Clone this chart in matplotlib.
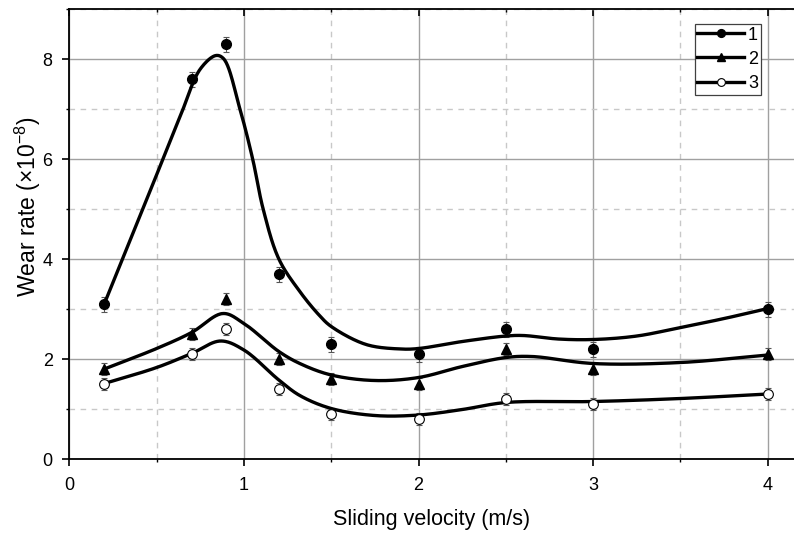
import numpy as np
import matplotlib.pyplot as plt
from matplotlib.ticker import MultipleLocator

plt.rcParams['font.family'] = ['Liberation Sans', 'DejaVu Sans']
plt.rcParams['mathtext.fontset'] = 'custom'
plt.rcParams['mathtext.rm'] = 'Liberation Sans'
plt.rcParams['mathtext.it'] = 'Liberation Sans:italic'

# measured points
velocity = [0.2, 0.7, 0.9, 1.2, 1.5, 2.0, 2.5, 3.0, 4.0]
wear_1 = [3.1, 7.6, 8.3, 3.7, 2.3, 2.1, 2.6, 2.2, 3.0]
wear_2 = [1.8, 2.5, 3.2, 2.0, 1.6, 1.5, 2.2, 1.8, 2.1]
wear_3 = [1.5, 2.1, 2.6, 1.4, 0.9, 0.8, 1.2, 1.1, 1.3]
err_1 = [0.15] * 9
err_2 = [0.12] * 9
err_3 = [0.12] * 9

# fitted curves
fit1_x = [0.2, 0.45, 0.64, 0.75, 0.84, 0.885, 0.977, 1.05, 1.11, 1.2,
          1.32, 1.43, 1.5, 1.7, 1.9, 2.0, 2.25, 2.5, 2.6, 2.8, 3.0, 3.25, 3.5, 3.75, 4.0]
fit1_y = [3.1, 5.25, 6.9, 7.8, 8.07, 8.0, 7.0, 6.0, 5.0, 4.0,
          3.35, 2.88, 2.65, 2.29, 2.2, 2.21, 2.35, 2.46, 2.47, 2.40, 2.39, 2.46, 2.63, 2.81, 3.01]
fit2_x = [0.2, 0.5, 0.7, 0.88, 1.0, 1.2, 1.32, 1.5, 1.75, 2.0, 2.25, 2.5, 2.65, 3.0, 3.5, 4.0]
fit2_y = [1.8, 2.21, 2.53, 2.91, 2.71, 2.15, 1.91, 1.68, 1.57, 1.63, 1.85, 2.03, 2.05, 1.91, 1.93, 2.08]
fit3_x = [0.2, 0.5, 0.7, 0.866, 1.0, 1.2, 1.32, 1.5, 1.75, 2.0, 2.25, 2.5, 3.0, 3.5, 4.0]
fit3_y = [1.51, 1.83, 2.11, 2.36, 2.18, 1.58, 1.27, 1.01, 0.87, 0.88, 0.99, 1.13, 1.15, 1.21, 1.30]

labels = ['1', '2', '3']


def catmull_rom(xs, ys, n=25, xscale=3.5):
    # centripetal catmull-rom, distances in roughly pixel proportions
    p = np.column_stack([np.array(xs) * xscale, ys])
    p = np.vstack([2 * p[0] - p[1], p, 2 * p[-1] - p[-2]])
    out = []
    for i in range(1, len(p) - 2):
        p0, p1, p2, p3 = p[i - 1], p[i], p[i + 1], p[i + 2]
        t0 = 0.0
        t1 = t0 + np.linalg.norm(p1 - p0) ** 0.5
        t2 = t1 + np.linalg.norm(p2 - p1) ** 0.5
        t3 = t2 + np.linalg.norm(p3 - p2) ** 0.5
        t = np.linspace(t1, t2, n)[:, None]
        a1 = (t1 - t) / (t1 - t0) * p0 + (t - t0) / (t1 - t0) * p1
        a2 = (t2 - t) / (t2 - t1) * p1 + (t - t1) / (t2 - t1) * p2
        a3 = (t3 - t) / (t3 - t2) * p2 + (t - t2) / (t3 - t2) * p3
        b1 = (t2 - t) / (t2 - t0) * a1 + (t - t0) / (t2 - t0) * a2
        b2 = (t3 - t) / (t3 - t1) * a2 + (t - t1) / (t3 - t1) * a3
        c = (t2 - t) / (t2 - t1) * b1 + (t - t1) / (t2 - t1) * b2
        out.append(c if i == 1 else c[1:])
    out = np.vstack(out)
    return out[:, 0] / xscale, out[:, 1]


fig = plt.figure(figsize=(7.94, 5.33), dpi=100)
ax = fig.add_axes([0.0873, 0.1388, 0.9127, 0.8443])

ax.set_xlim(0, 4.15)
ax.set_ylim(0, 9)
ax.xaxis.set_major_locator(MultipleLocator(1))
ax.xaxis.set_minor_locator(MultipleLocator(0.5))
ax.yaxis.set_major_locator(MultipleLocator(2))
ax.yaxis.set_minor_locator(MultipleLocator(1))
ax.grid(True, which='major', color='#a0a0a0', lw=1.0, ls='-', zorder=0)
ax.grid(True, which='minor', color='#c8c8c8', lw=1.0, ls=(0, (4, 4)), zorder=0)
ax.set_axisbelow(True)

ax.spines['right'].set_visible(False)
for s in ['left', 'bottom', 'top']:
    ax.spines[s].set_linewidth(1.3)
ax.tick_params(which='major', direction='out', length=5, width=1.2, labelsize=13)
ax.tick_params(which='minor', direction='out', length=2.5, width=1.0)
ax.tick_params(axis='x', which='major', pad=8)
ax.tick_params(axis='y', which='major', pad=7)
ax.tick_params(axis='x', top=True, which='both')
for t in ax.xaxis.get_major_ticks() + ax.xaxis.get_minor_ticks():
    t.tick2line.set_marker(3)  # top ticks point into the plot

markers = [dict(marker='o', mfc='black', mec='black', ms=7),
           dict(marker='^', mfc='black', mec='black', ms=7),
           dict(marker='o', mfc='white', mec='black', ms=7, mew=0.8)]
fits = [(fit1_x, fit1_y), (fit2_x, fit2_y), (fit3_x, fit3_y)]
for ys, es, m, (fx, fy), lab in zip([wear_1, wear_2, wear_3], [err_1, err_2, err_3],
                                    markers, fits, labels):
    ax.errorbar(velocity, ys, yerr=es, fmt='none', ecolor='#555555', elinewidth=0.8,
                capsize=2.5, capthick=0.8, zorder=3)
    ax.plot(velocity, ys, ls='none', zorder=4, **m)
    sx, sy = catmull_rom(fx, fy)
    ax.plot(sx, sy, color='black', lw=2.4, zorder=3, solid_capstyle='round')
    ax.plot([], [], color='black', lw=2.4, label=lab, **m)

leg = ax.legend(loc='upper right', bbox_to_anchor=(0.954, 0.967), fontsize=13, handlelength=2.6,
                handletextpad=0.2, labelspacing=0.4, borderpad=0.15, borderaxespad=0,
                fancybox=False, framealpha=1, edgecolor='#404040', markerscale=0.8)
leg.get_frame().set_linewidth(0.9)

ax.set_xlabel('Sliding velocity (m/s)', fontsize=15.5)
ax.xaxis.set_label_coords(0.5, -0.112)
ax.set_ylabel(r'Wear rate ($\times$10$^{-8}$)', fontsize=16.5)
ax.yaxis.set_label_coords(-0.036, 0.56)

fig.savefig('out.png', dpi=100)
